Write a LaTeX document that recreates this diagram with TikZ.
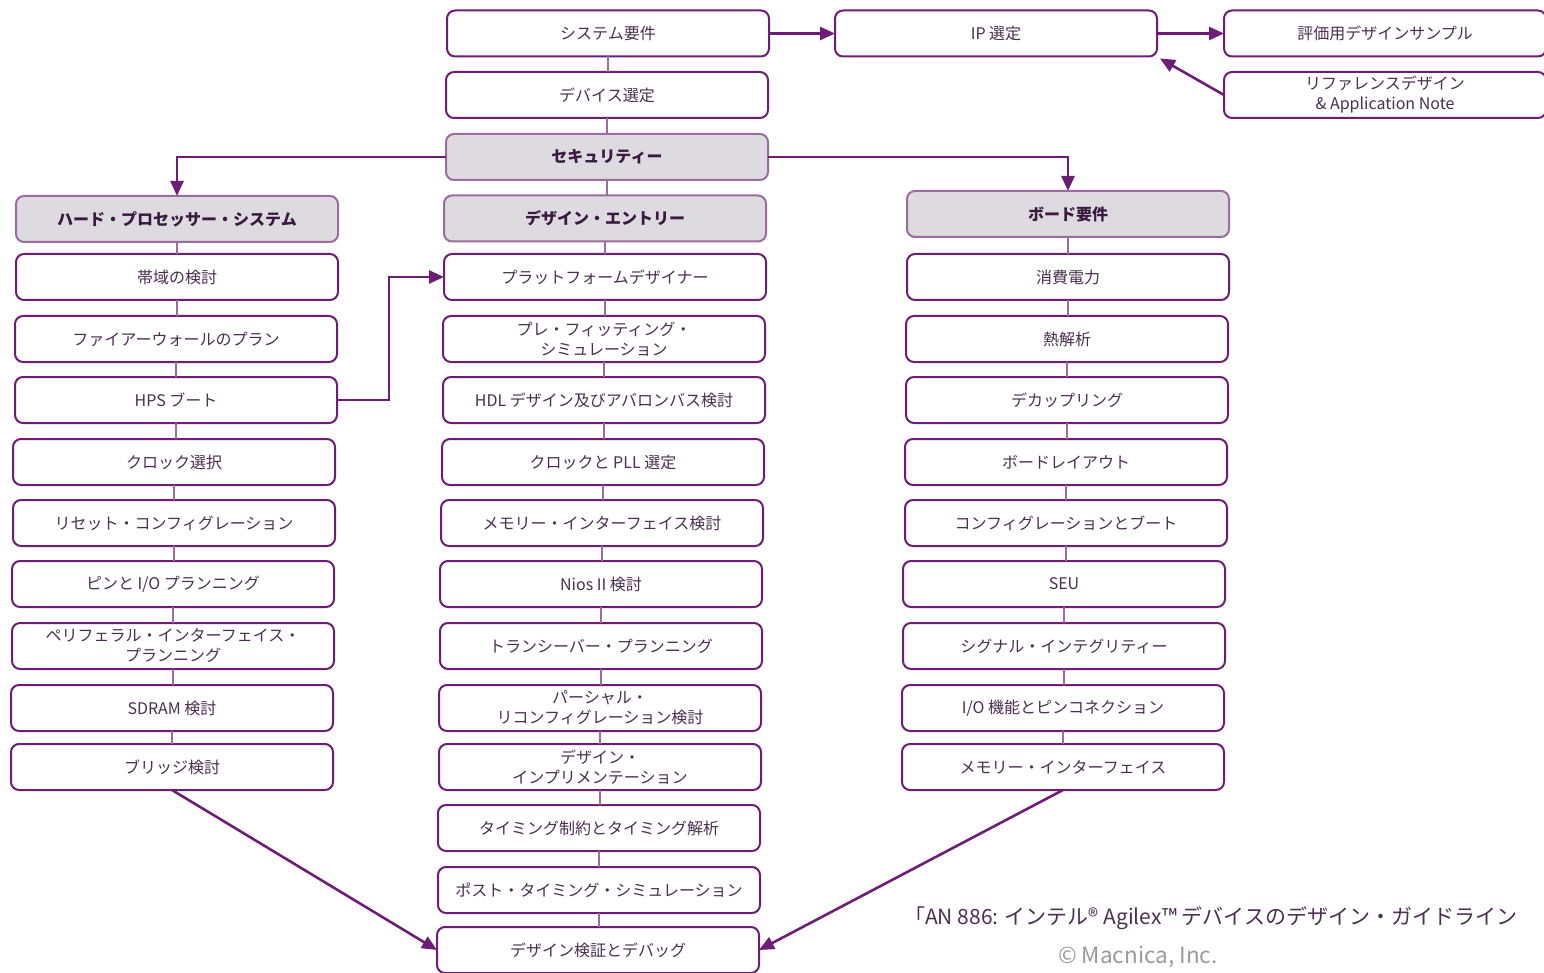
\documentclass[tikz,border=0pt]{standalone}
\usepackage{fontspec}
\setmainfont{Noto Sans CJK JP}
\usetikzlibrary{arrows.meta,calc}
\definecolor{pl}{HTML}{6E1D76}
\definecolor{plight}{HTML}{9A6CA0}
\definecolor{gfill}{HTML}{DDDBDF}
\definecolor{txt}{HTML}{4A2F4F}
\definecolor{htxt}{HTML}{3A1A40}
\definecolor{copyg}{HTML}{9A9A9A}
\tikzset{
  boxbase/.style={rounded corners=8pt, minimum width=322pt, minimum height=46pt, inner sep=0pt, outer sep=0pt, align=center, font=\fontsize{16}{20}\selectfont},
  wbox/.style={boxbase, draw=pl, line width=2pt, fill=white, text=txt},
  gbox/.style={boxbase, draw=plight, line width=2pt, fill=gfill, text=htxt, font=\fontsize{16}{20}\selectfont\bfseries},
  vline/.style={draw=plight, line width=1.6pt},
  conn/.style={draw=pl, line width=2.6pt, -{Triangle[length=15pt,width=13pt]}},
}
\begin{document}
\begin{tikzpicture}[x=1pt,y=-1pt]
\useasboundingbox (0,0) rectangle (1544,973);
% top row
\node[wbox] (sys) at (608,33.5) {システム要件};
\node[wbox] (ip) at (996,33.5) {IP 選定};
\node[wbox] (eval) at (1385,33.5) {評価用デザインサンプル};
\node[wbox] (ref) at (1385,95) {リファレンスデザイン\\\& Application Note};
\node[wbox] (dev) at (607,95) {デバイス選定};
\node[gbox] (sec) at (607,157) {セキュリティー};
% headers
\node[gbox] (hps) at (177,219) {ハード・プロセッサー・システム};
\node[gbox] (de) at (605,218.5) {デザイン・エントリー};
\node[gbox] (board) at (1068,214) {ボード要件};
% left column
\node[wbox] (l1) at (177,277) {帯域の検討};
\node[wbox] (l2) at (176,339) {ファイアーウォールのプラン};
\node[wbox] (l3) at (176,400) {HPS ブート};
\node[wbox] (l4) at (174,462) {クロック選択};
\node[wbox] (l5) at (174,523) {リセット・コンフィグレーション};
\node[wbox] (l6) at (173,584) {ピンと I/O プランニング};
\node[wbox] (l7) at (173,646) {ペリフェラル・インターフェイス・\\プランニング};
\node[wbox] (l8) at (172,708) {SDRAM 検討};
\node[wbox] (l9) at (172,767) {ブリッジ検討};
% middle column
\node[wbox] (m1) at (605,277) {プラットフォームデザイナー};
\node[wbox] (m2) at (604,339) {プレ・フィッティング・\\シミュレーション};
\node[wbox] (m3) at (604,400) {HDL デザイン及びアバロンバス検討};
\node[wbox] (m4) at (603,462) {クロックと PLL 選定};
\node[wbox] (m5) at (602,523) {メモリー・インターフェイス検討};
\node[wbox] (m6) at (601,584) {Nios II 検討};
\node[wbox] (m7) at (601,646) {トランシーバー・プランニング};
\node[wbox] (m8) at (600,708) {パーシャル・\\リコンフィグレーション検討};
\node[wbox] (m9) at (600,767) {デザイン・\\インプリメンテーション};
\node[wbox] (m10) at (599,828) {タイミング制約とタイミング解析};
\node[wbox] (m11) at (599,890) {ポスト・タイミング・シミュレーション};
\node[wbox] (m12) at (598,950) {デザイン検証とデバッグ};
% right column
\node[wbox] (r1) at (1068,277) {消費電力};
\node[wbox] (r2) at (1067,339) {熱解析};
\node[wbox] (r3) at (1067,400) {デカップリング};
\node[wbox] (r4) at (1066,462) {ボードレイアウト};
\node[wbox] (r5) at (1066,523) {コンフィグレーションとブート};
\node[wbox] (r6) at (1064,584) {SEU};
\node[wbox] (r7) at (1064,646) {シグナル・インテグリティー};
\node[wbox] (r8) at (1063,708) {I/O 機能とピンコネクション};
\node[wbox] (r9) at (1063,767) {メモリー・インターフェイス};
% vertical links
\foreach \a/\b in {sys/dev,dev/sec,sec/de,de/m1,m1/m2,m2/m3,m3/m4,m4/m5,m5/m6,m6/m7,m7/m8,m8/m9,m9/m10,m10/m11,m11/m12,
  hps/l1,l1/l2,l2/l3,l3/l4,l4/l5,l5/l6,l6/l7,l7/l8,l8/l9,
  board/r1,r1/r2,r2/r3,r3/r4,r4/r5,r5/r6,r6/r7,r7/r8,r8/r9}
  \draw[vline] (\a.south) -- (\a.south |- \b.north);
% arrows
\draw[conn] (sys.east) -- (ip.west);
\draw[conn] (ip.east) -- (eval.west);
\draw[conn] (ref.west) -- ($(ip.south east)+(3,2)$);
\draw[conn] (sec.west) -| (hps.north);
\draw[conn] (sec.east) -| (board.north);
\draw[conn] (l3.east) -- ++(52,0) |- (m1.west);
\draw[conn] (l9.south) -- (m12.west);
\draw[conn] (r9.south) -- (m12.east);
% footer
\node[anchor=west, text=txt, font=\fontsize{21}{25}\selectfont, inner sep=0pt] (cite) at (904,918) {「AN 886: インテル® Agilex™ デバイスのデザイン・ガイドライン};
\node[anchor=west, text=copyg, font=\fontsize{22.5}{26}\selectfont, inner sep=0pt] (copy) at (1058,957) {© Macnica, Inc.};
\end{tikzpicture}
\end{document}
